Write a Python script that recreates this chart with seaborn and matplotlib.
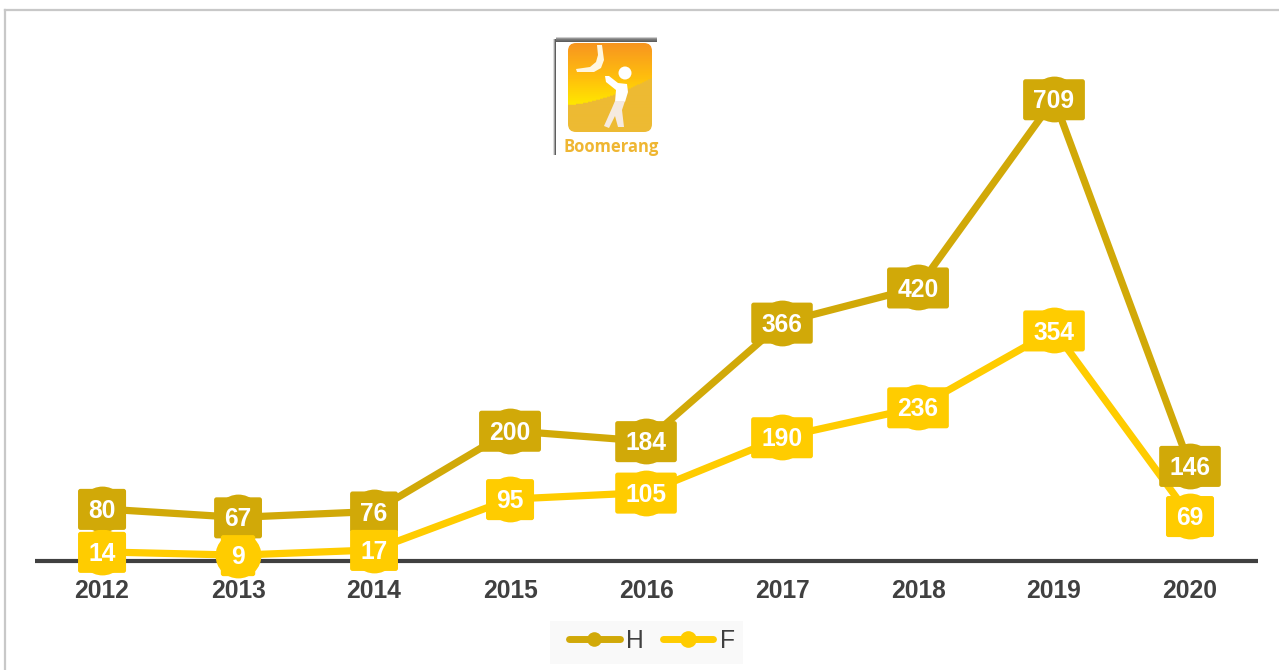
"""Boomerang yearly H / F counts, line chart with boxed value labels."""

import matplotlib.pyplot as plt
import numpy as np
import pandas as pd
import seaborn as sns
from matplotlib.lines import Line2D
from matplotlib.patches import BoxStyle, FancyBboxPatch, PathPatch, Rectangle
from matplotlib.path import Path as MplPath

YEARS = ["2012", "2013", "2014", "2015", "2016", "2017", "2018", "2019", "2020"]
H_VALUES = [80, 67, 76, 200, 184, 366, 420, 709, 146]
F_VALUES = [14, 9, 17, 95, 105, 190, 236, 354, 69]
PALETTE = {"H": "#D1A908", "F": "#FFCC00"}

W, H = 1279, 670
DARK = "#404040"
FONT_SIZE = 17.7


def px_axes(fig, left, top, right, bottom, **kw):
    return fig.add_axes(
        [left / W, 1 - bottom / H, (right - left) / W, (bottom - top) / H], **kw
    )


def polygon(ax, points, color, z=4):
    ax.add_patch(PathPatch(MplPath(points, closed=False), fc=color, ec="none", zorder=z))


def label_box(x0, y0, width, height, mutation_size):
    # fixed height tag, horizontal padding follows the text
    pad_x = 0.42 * mutation_size
    box_h = 1.67 * mutation_size
    middle = y0 + height / 2 + 0.065 * mutation_size
    round_box = BoxStyle.Round(pad=0, rounding_size=0.1)
    return round_box(x0 - pad_x, middle - box_h / 2, width + 2 * pad_x, box_h, mutation_size)


def draw_logo(fig):
    ax = px_axes(fig, 545, 30, 670, 165)
    ax.set_xlim(545, 670)
    ax.set_ylim(165, 30)
    ax.axis("off")

    # soft shadow along the top and left of the picture
    ax.imshow(
        np.array([0.0, 0.3, 0.5, 0.6, 0.65, 0.7, 0.7])[:, None],
        extent=(556, 657, 43, 36),
        cmap="Greys",
        vmin=0.0,
        vmax=1.0,
        aspect="auto",
        interpolation="bilinear",
        zorder=1,
    )
    ax.imshow(
        np.linspace(0, 0.7, 4)[None, :],
        extent=(552, 556, 155, 40),
        cmap="Greys",
        vmin=0.0,
        vmax=1.0,
        aspect="auto",
        interpolation="bilinear",
        zorder=1,
    )
    ax.add_patch(Rectangle((556, 42), 104, 113, fc="white", ec="none", zorder=2))

    box = FancyBboxPatch(
        (568, 43),
        84,
        89,
        boxstyle="round,pad=0,rounding_size=8",
        fc="none",
        ec="none",
        transform=ax.transData,
        zorder=3,
    )
    ax.add_patch(box)

    ys = np.linspace(0, 1, 89)
    stops = np.array([[0.97, 0.58, 0.13], [1.0, 0.75, 0.05], [1.0, 0.90, 0.0]])
    grad = np.zeros((89, 84, 3))
    for c in range(3):
        grad[:, :, c] = np.interp(ys, [0, 0.4, 0.68], stops[:, c])[:, None]
    # paler lower part below a shallow curve
    xs = np.linspace(0, 1, 84)
    curve = 0.70 - 0.30 * xs**1.6
    for i, y in enumerate(ys):
        grad[i, y > curve] = [0.93, 0.73, 0.20]
    img = ax.imshow(grad, extent=(568, 652, 132, 43), aspect="auto", zorder=3)
    img.set_clip_path(box)

    polygon(
        ax,
        [(597, 45), (602, 45), (604, 60), (601, 68), (594, 72), (577, 72),
         (576, 69), (590, 67), (596, 62), (598, 55)],
        "#FFF6E0",
    )
    ax.add_patch(plt.Circle((625, 73), 6.5, fc="white", ec="none", zorder=4))
    polygon(
        ax,
        [(605, 76), (609, 76), (618, 83), (627, 84), (628, 92), (625, 102), (615, 102),
         (616, 90), (606, 82)],
        "white",
    )
    polygon(
        ax,
        [(615, 101), (625, 101), (622, 110), (624, 127), (618, 127), (615, 116), (609, 128),
         (604, 126), (612, 108)],
        "#F5EAE0",
    )

    ax.text(
        611.5,
        147,
        "Boomerang",
        ha="center",
        va="center",
        fontsize=12,
        fontweight="bold",
        family="Open Sans",
        color="#EFB632",
        zorder=5,
    )


plt.rcParams["font.family"] = ["Liberation Sans", "DejaVu Sans"]

frame = pd.DataFrame(
    {
        "year": YEARS * 2,
        "value": H_VALUES + F_VALUES,
        "series": ["H"] * len(YEARS) + ["F"] * len(YEARS),
    }
)

fig = plt.figure(figsize=(W / 100, H / 100), dpi=100, facecolor="white")

# outer frame of the chart area
fig.add_artist(Line2D([5 / W, 5 / W], [0, 1 - 10 / H], color="#C8C8C8", lw=1.6))
fig.add_artist(Line2D([5 / W, 1], [1 - 10 / H, 1 - 10 / H], color="#C8C8C8", lw=1.6))

ax = px_axes(fig, 35, 40, 1258, 561, facecolor="none")
sns.lineplot(
    data=frame,
    x="year",
    y="value",
    hue="series",
    hue_order=["H", "F"],
    palette=PALETTE,
    marker="o",
    markersize=33,
    markeredgewidth=0,
    linewidth=5.2,
    legend=False,
    clip_on=False,
    ax=ax,
)
ax.set_xlim(-0.493, 8.5)
ax.set_ylim(0, 800)
ax.set_xlabel("")
ax.set_ylabel("")
ax.set_yticks([])
ax.tick_params(axis="x", length=0, pad=13, labelsize=FONT_SIZE, labelcolor=DARK)
for lab in ax.get_xticklabels():
    lab.set_fontweight("bold")
sns.despine(ax=ax, left=True)
ax.spines["bottom"].set_color(DARK)
ax.spines["bottom"].set_linewidth(3)
ax.spines["bottom"].set_zorder(1)
ax.spines["bottom"].set_capstyle("butt")

for name, values, z in (("H", H_VALUES, 5), ("F", F_VALUES, 6)):
    for i, v in enumerate(values):
        ax.annotate(
            str(v),
            xy=(i, v),
            xytext=(0, 0.3),
            textcoords="offset points",
            ha="center",
            va="center_baseline",
            color="white",
            fontsize=FONT_SIZE,
            fontweight="bold",
            zorder=z,
            annotation_clip=False,
            bbox=dict(boxstyle=label_box, fc=PALETTE[name], ec="none"),
        )

# legend band drawn separately, its padding is not even on both sides
fig.add_artist(
    Rectangle((550 / W, 1 - 664 / H), 193 / W, 43 / H, transform=fig.transFigure,
              fc="#F9F9F9", ec="none", zorder=-1)
)
handles = [
    Line2D([], [], color=PALETTE["H"], lw=5, marker="o", ms=10.5, mew=0, solid_capstyle="round"),
    Line2D([], [], color=PALETTE["F"], lw=5, marker="o", ms=12, mew=0, solid_capstyle="round"),
]
fig.legend(
    handles,
    ["H", "F"],
    loc="center",
    bbox_to_anchor=(652 / W, 1 - 641 / H),
    ncol=2,
    frameon=False,
    fontsize=FONT_SIZE,
    labelcolor=DARK,
    handlelength=2.05,
    handletextpad=0.28,
    columnspacing=0.75,
    borderpad=0,
    borderaxespad=0,
)

draw_logo(fig)

fig.savefig("out.png", dpi=100)
